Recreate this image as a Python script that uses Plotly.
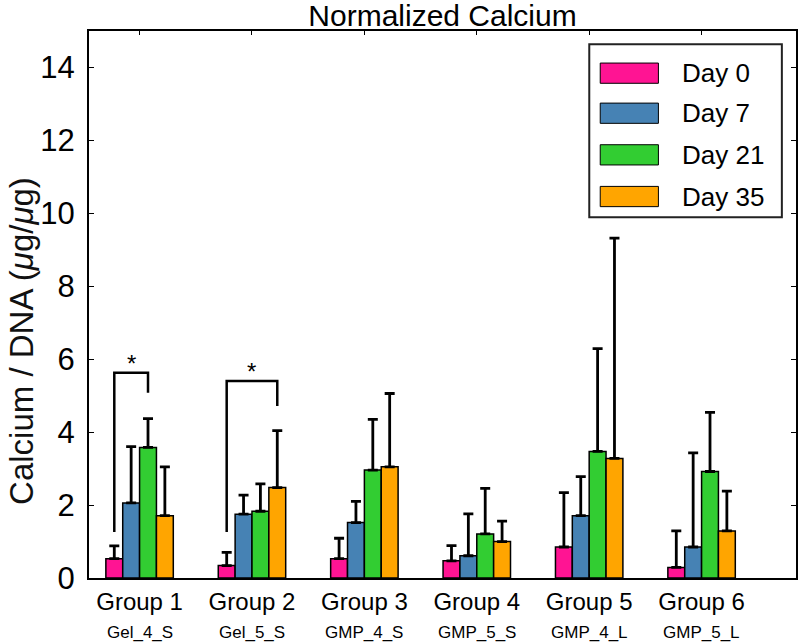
import plotly.graph_objects as go

# data
groups = [1, 2, 3, 4, 5, 6]
group_labels = ["Group 1", "Group 2", "Group 3", "Group 4", "Group 5", "Group 6"]
sample_names = ["Gel_4_S", "Gel_5_S", "GMP_4_S", "GMP_5_S", "GMP_4_L", "GMP_5_L"]

days = ["Day 0", "Day 7", "Day 21", "Day 35"]
colors = ["#FF1493", "#4682B4", "#32CD32", "#FFA500"]

day0 = [0.53, 0.34, 0.53, 0.47, 0.85, 0.29]
day7 = [2.06, 1.75, 1.52, 0.61, 1.71, 0.85]
day21 = [3.58, 1.83, 2.96, 1.21, 3.47, 2.92]
day35 = [1.71, 2.48, 3.05, 1.00, 3.28, 1.29]

sd0 = [0.35, 0.36, 0.56, 0.42, 1.49, 1.00]
sd7 = [1.54, 0.52, 0.58, 1.15, 1.07, 2.58]
sd21 = [0.79, 0.75, 1.39, 1.25, 2.82, 1.62]
sd35 = [1.34, 1.56, 2.01, 0.56, 6.04, 1.09]

means = [day0, day7, day21, day35]
sds = [sd0, sd7, sd21, sd35]

# significance brackets: (group, first series, second series, left foot, top, right foot)
brackets = [
    (1, 0, 2, 1.26, 5.63, 5.08),
    (2, 0, 3, 1.26, 5.40, 4.72),
]

font = "Liberation Sans, Arial, Helvetica, sans-serif"
bargap = 0.4
bar_w = (1 - bargap) / len(days)
W, H = 800, 643


def offset(k):
    # center of the k-th bar inside a group
    return (k - (len(days) - 1) / 2) * bar_w


fig = go.Figure()

for k, day in enumerate(days):
    fig.add_trace(go.Bar(
        x=groups,
        y=means[k],
        name=day,
        marker=dict(color=colors[k], line=dict(color="black", width=1.5)),
        error_y=dict(
            type="data",
            symmetric=False,
            array=sds[k],
            arrayminus=[0] * len(groups),
            color="black",
            thickness=2.8,
            width=5,
        ),
        showlegend=False,
    ))

# brackets and stars
for g, a, b, y_left, y_top, y_right in brackets:
    xa = g + offset(a)
    xb = g + offset(b)
    fig.add_trace(go.Scatter(
        x=[xa, xa, xb, xb],
        y=[y_left, y_top, y_top, y_right],
        mode="lines",
        line=dict(color="black", width=2.5),
        showlegend=False,
        hoverinfo="skip",
    ))
    fig.add_annotation(
        x=(xa + xb) / 2, y=y_top, xref="x", yref="y",
        text="*", showarrow=False, yanchor="bottom", yshift=-6,
        font=dict(family=font, size=24, color="black"),
    )

# sample names under the group labels
for g, name in zip(groups, sample_names):
    fig.add_annotation(
        x=g, y=-0.1005, xref="x", yref="paper",
        text=name, showarrow=False, yanchor="middle",
        font=dict(family=font, size=17, color="black"),
    )

# legend drawn by hand to get the wide swatches
fig.add_shape(type="rect", xref="paper", yref="paper",
              x0=0.7076, x1=0.980, y0=0.6594, y1=0.9757,
              line=dict(color="#222222", width=2), fillcolor="white", layer="above")
row_y = [0.9229, 0.8497, 0.7736, 0.6974]
for k, day in enumerate(days):
    fig.add_shape(type="rect", xref="paper", yref="paper",
                  x0=0.7231, x1=0.8054, y0=row_y[k] - 0.0185, y1=row_y[k] + 0.0185,
                  line=dict(color="black", width=1), fillcolor=colors[k], layer="above")
    fig.add_annotation(
        x=0.836, y=row_y[k], xref="paper", yref="paper",
        text=day, showarrow=False, xanchor="left", yanchor="middle",
        font=dict(family=font, size=26, color="black"),
    )

# y axis title
fig.add_annotation(
    x=-0.1255, y=0.433, xref="paper", yref="paper",
    text="Calcium / DNA (<i>μ</i>g/<i>μ</i>g)", textangle=-90,
    showarrow=False, xanchor="left", yanchor="middle",
    font=dict(family=font, size=33, color="#111111"),
)

fig.update_layout(
    width=W,
    height=H,
    barmode="group",
    bargap=bargap,
    bargroupgap=0,
    plot_bgcolor="white",
    paper_bgcolor="white",
    margin=dict(l=89, r=2, t=31, b=65),
    title=dict(
        text="Normalized Calcium",
        xref="paper", x=0.5, xanchor="center",
        y=1 - 15 / H, yanchor="middle",
        font=dict(family=font, size=30, color="black"),
    ),
    xaxis=dict(
        range=[0.55, 6.84],
        tickvals=groups,
        ticktext=group_labels,
        ticks="inside",
        ticklen=4,
        tickcolor="black",
        showline=True,
        linecolor="black",
        linewidth=2,
        mirror="ticks",
        showgrid=False,
        zeroline=False,
        ticklabelstandoff=1,
        tickfont=dict(family=font, size=24, color="black"),
    ),
    yaxis=dict(
        range=[0, 15],
        tick0=0,
        dtick=2,
        ticks="inside",
        ticklen=5,
        tickcolor="black",
        showline=True,
        linecolor="black",
        linewidth=2,
        mirror="ticks",
        showgrid=False,
        zeroline=False,
        ticklabelstandoff=6,
        tickfont=dict(family=font, size=31, color="black"),
    ),
)

# drop the browser's default 8px page margin so the figure fills the window,
# and keep the modebar out of the picture
fig.write_html("out.html",
               config={"displayModeBar": False},
               post_script="document.body.style.margin = '0';")
